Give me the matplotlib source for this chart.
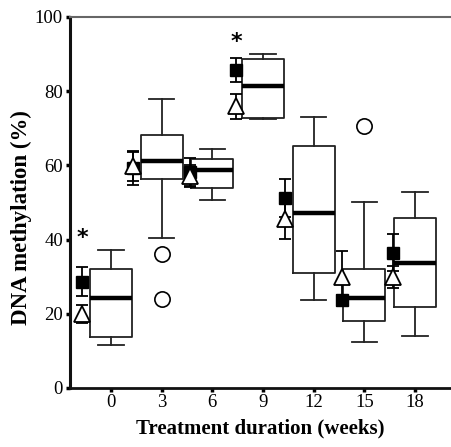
import matplotlib
matplotlib.use("Agg")
import matplotlib.pyplot as plt

# Treatment duration (weeks)
weeks = ["0", "3", "6", "9", "12", "15", "18"]

# Box summaries of DNA methylation (%)
whisker_low = [11.6, 40.4, 50.7, 72.6, 23.7, 12.4, 14.0]
q1 = [13.7, 56.3, 53.9, 72.8, 31.0, 18.1, 21.8]
median = [24.3, 61.2, 58.8, 81.4, 47.2, 24.3, 33.8]
q3 = [32.1, 68.2, 61.6, 88.7, 65.3, 32.1, 45.8]
whisker_high = [37.2, 77.9, 64.3, 90.0, 73.1, 50.1, 52.8]
outliers = [[], [36.1, 24.0], [], [], [], [70.6], []]

# Group means with error bars
square_mean = [28.6, 59.2, 58.2, 85.7, 51.2, 23.7, 36.4]
square_err = [3.9, 4.5, 3.8, 3.3, 5.1, 1.5, 5.0]
triangle_mean = [19.9, 59.8, 57.2, 75.9, 45.6, 29.9, 29.9]
triangle_err = [2.5, 4.0, 3.0, 3.3, 5.4, 7.0, 3.0]

# Significance marks: (week index, height)
stars = [(0, 40.4), (3, 93.3)]

# Layout
marker_offset = [-0.57, -0.57, -0.45, -0.53, -0.57, -0.44, -0.43]
box_width = 0.83

plt.rcParams["font.family"] = ["Liberation Serif", "DejaVu Serif"]

fig = plt.figure(figsize=(4.51, 4.47), dpi=100)
ax = fig.add_axes([0.155, 0.132, 0.845, 0.830])

positions = list(range(len(weeks)))
stats = []
for i in positions:
    stats.append(dict(med=median[i], q1=q1[i], q3=q3[i],
                      whislo=whisker_low[i], whishi=whisker_high[i],
                      fliers=outliers[i]))

ax.bxp(stats, positions=positions, widths=box_width, capwidths=0.5,
       boxprops=dict(color="#222222", linewidth=1.3),
       whiskerprops=dict(color="#222222", linewidth=1.3),
       capprops=dict(color="#222222", linewidth=1.3),
       medianprops=dict(color="black", linewidth=3.2),
       flierprops=dict(marker="o", markersize=11, markerfacecolor="white",
                       markeredgecolor="black", markeredgewidth=1.2),
       zorder=2)

mx = [p + o for p, o in zip(positions, marker_offset)]
ax.errorbar(mx, square_mean, yerr=square_err, fmt="s", color="black",
            markersize=9, markerfacecolor="black", markeredgecolor="black",
            ecolor="black", elinewidth=1.3, capsize=4.5, capthick=1.3,
            zorder=4)
ax.errorbar(mx, triangle_mean, yerr=triangle_err, fmt="^", color="black",
            markersize=11, markerfacecolor="white", markeredgecolor="black",
            markeredgewidth=1.3, ecolor="black", elinewidth=1.3,
            capsize=4.5, capthick=1.3, zorder=5)

for idx, h in stars:
    ax.text(mx[idx] + 0.01, h, "*", ha="center", va="center",
            fontsize=16, fontweight="bold", family="DejaVu Sans")

ax.set_xlim(-0.81, 6.71)
ax.set_ylim(0, 100)
ax.set_xticks(positions)
ax.set_xticklabels(weeks)
ax.set_yticks([0, 20, 40, 60, 80, 100])

ax.spines["right"].set_visible(False)
ax.spines["left"].set_linewidth(2.2)
ax.spines["left"].set_color("#111111")
ax.spines["bottom"].set_linewidth(2.0)
ax.spines["bottom"].set_color("#111111")
ax.spines["top"].set_linewidth(1.5)
ax.spines["top"].set_color("#666666")

ax.tick_params(axis="both", direction="out", length=3, width=2.5,
               labelsize=13.5, pad=2, colors="black")
ax.tick_params(axis="x", pad=1)

ax.set_xlabel("Treatment duration (weeks)", fontsize=15, fontweight="bold",
              labelpad=6)
ax.set_ylabel("DNA methylation (%)", fontsize=16.5, fontweight="bold")
ax.yaxis.set_label_coords(-0.10, 0.46)

fig.savefig("out.png", dpi=100)
